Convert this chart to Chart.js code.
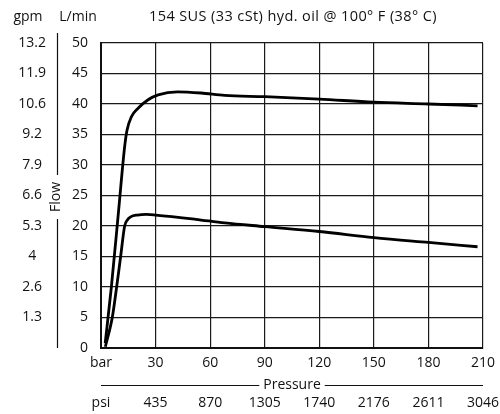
<!DOCTYPE html>
<html>
<head>
<meta charset="utf-8">
<script src="https://cdn.jsdelivr.net/npm/chart.js@4.4.1/dist/chart.umd.min.js"></script>
<style>
  html, body { margin: 0; padding: 0; background: #fff; }
  #wrap { width: 500px; height: 414px; }
</style>
</head>
<body>
<div id="wrap"><canvas id="grafico"></canvas></div>
<script>
// ======== DADOS ===========
const upperPressure = [2.3, 5.7, 9.7, 13, 14.3, 16.7, 20.4, 25.9, 31.4, 42, 55, 68, 90, 120, 150, 180, 207];
const upperFlow     = [0.8, 10, 22.6, 33, 35.7, 37.9, 39.3, 40.7, 41.5, 42, 41.8, 41.4, 41.2, 40.8, 40.3, 40, 39.7];

const lowerPressure = [2.4, 6.2, 8.6, 10.8, 13, 14.5, 16.3, 20, 25, 30, 52, 68, 90, 120, 150, 180, 207];
const lowerFlow     = [0.2, 5, 10, 15, 20, 21, 21.5, 21.8, 21.9, 21.8, 21.1, 20.5, 19.9, 19.1, 18.1, 17.3, 16.6];

const barTicks = ['bar', '30', '60', '90', '120', '150', '180', '210'];
const psiTicks = ['psi', '435', '870', '1305', '1740', '2176', '2611', '3046'];
const lpmTicks = ['0', '5', '10', '15', '20', '25', '30', '35', '40', '45', '50'];
const gpmTicks = ['', '1.3', '2.6', '4', '5.3', '6.6', '7.9', '9.2', '10.6', '11.9', '13.2'];

const titulo = '154 SUS (33 cSt) hyd. oil @ 100\u00b0 F (38\u00b0 C)';
const FONTE = '"Open Sans", Lato, sans-serif';

const toPoints = (xs, ys) => xs.map((x, i) => ({ x: x, y: ys[i] }));

// ======== DECORAÇÕES ===========
const decoracao = {
  id: 'decoracao',
  afterDraw(chart) {
    const ctx = chart.ctx;
    const area = chart.chartArea;
    ctx.save();
    ctx.fillStyle = '#111';
    ctx.strokeStyle = '#111';
    ctx.font = '14px ' + FONTE;
    ctx.textBaseline = 'middle';
    ctx.textAlign = 'center';
    ctx.fillText('gpm', 28, 17);
    ctx.fillText('L/min', 78, 17);
    ctx.font = '14.5px ' + FONTE;
    ctx.letterSpacing = '0.4px';
    ctx.fillText(titulo, 293, 17);
    ctx.letterSpacing = '0px';

    // linha vertical "Flow"
    ctx.lineWidth = 1.2;
    ctx.beginPath();
    ctx.moveTo(57.5, 33); ctx.lineTo(57.5, 175);
    ctx.moveTo(57.5, 219); ctx.lineTo(57.5, area.bottom);
    ctx.stroke();
    ctx.save();
    ctx.translate(56, 197);
    ctx.rotate(-Math.PI / 2);
    ctx.font = '14px ' + FONTE;
    ctx.fillText('Flow', 0, 0);
    ctx.restore();

    // linha horizontal "Pressure"
    const cx = (area.left + area.right) / 2;
    ctx.font = '14px ' + FONTE;
    const w = ctx.measureText('Pressure').width;
    ctx.beginPath();
    ctx.moveTo(area.left, 385.5); ctx.lineTo(cx - w / 2 - 4, 385.5);
    ctx.moveTo(cx + w / 2 + 4, 385.5); ctx.lineTo(area.right, 385.5);
    ctx.stroke();
    ctx.fillText('Pressure', cx, 385);
    ctx.restore();
  }
};

// ======== GRÁFICO ===========
const tickFont = { family: FONTE, size: 14 };
const gridStyle = { color: '#1a1a1a', lineWidth: 1.2, drawTicks: false };
const semSobra = (s) => { s.paddingLeft = 0; s.paddingRight = 0; s.paddingTop = 0; s.paddingBottom = 0; };

new Chart(document.getElementById('grafico'), {
  type: 'line',
  data: {
    datasets: [
      {
        data: toPoints(upperPressure, upperFlow),
        borderColor: '#000',
        borderWidth: 2.8,
        pointRadius: 0,
        cubicInterpolationMode: 'monotone',
        fill: false
      },
      {
        data: toPoints(lowerPressure, lowerFlow),
        borderColor: '#000',
        borderWidth: 2.8,
        pointRadius: 0,
        cubicInterpolationMode: 'monotone',
        fill: false
      }
    ]
  },
  options: {
    responsive: true,
    maintainAspectRatio: false,
    animation: false,
    layout: { padding: { top: 43, right: 17, left: 0, bottom: 0 } },
    plugins: { legend: { display: false }, tooltip: { enabled: false } },
    scales: {
      x: {
        type: 'linear', position: 'bottom', weight: 0,
        min: 0, max: 210,
        grid: gridStyle,
        border: { color: '#111', width: 2 },
        ticks: {
          stepSize: 30, padding: 7, color: '#111', font: tickFont,
          maxRotation: 0, autoSkip: false,
          callback: (v) => barTicks[v / 30]
        },
        afterFit: (s) => { s.height = 30; semSobra(s); }
      },
      x2: {
        type: 'linear', position: 'bottom', weight: 1,
        min: 0, max: 210,
        grid: { display: false, drawTicks: false },
        border: { display: false },
        ticks: {
          stepSize: 30, padding: 17, color: '#111', font: tickFont,
          maxRotation: 0, autoSkip: false,
          callback: (v) => psiTicks[v / 30]
        },
        afterFit: (s) => { s.height = 36; semSobra(s); }
      },
      y: {
        type: 'linear', position: 'left', weight: 0,
        min: 0, max: 50,
        grid: gridStyle,
        border: { color: '#111', width: 2 },
        ticks: {
          stepSize: 5, padding: 13, color: '#111', font: tickFont,
          callback: (v) => lpmTicks[v / 5]
        },
        afterFit: (s) => { s.width = 41; semSobra(s); }
      },
      y2: {
        type: 'linear', position: 'left', weight: 1,
        min: 0, max: 50,
        grid: { display: false, drawTicks: false },
        border: { display: false },
        ticks: {
          stepSize: 5, padding: 14, color: '#111', font: tickFont,
          crossAlign: 'center',
          callback: (v) => gpmTicks[v / 5]
        },
        afterFit: (s) => { s.width = 60; semSobra(s); }
      }
    }
  },
  plugins: [decoracao]
});
</script>
</body>
</html>
